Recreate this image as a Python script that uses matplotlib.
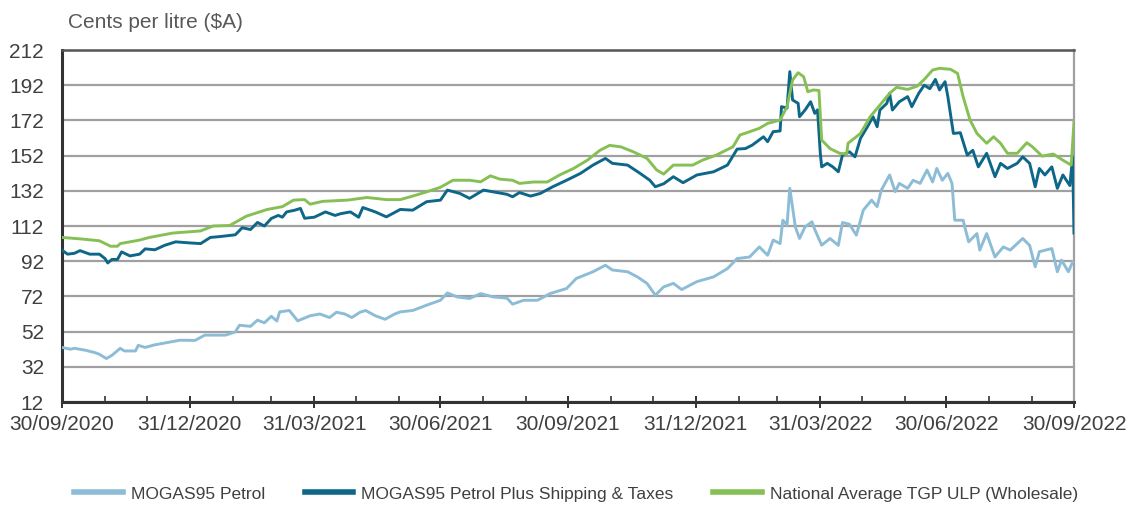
import numpy as np
import pandas as pd
import matplotlib
matplotlib.use('Agg')
import matplotlib.pyplot as plt
import matplotlib.dates as mdates

plt.rcParams['font.family'] = ['Liberation Sans', 'DejaVu Sans']

# ── Data ─────────────────────────────────────────────────────────────────────
start = pd.Timestamp('2020-09-30')
end = pd.Timestamp('2022-09-30')

# MOGAS95 Petrol
mogas_days = [0, 6, 9, 17, 24, 27, 32, 36, 42, 45, 53, 55, 60, 67, 74, 85, 96, 103,
              110, 118, 125, 128, 136, 141, 146, 151, 155, 157, 164, 170, 179, 186,
              193, 198, 204, 209, 215, 219, 226, 233, 240, 244, 253, 263, 273, 278,
              285, 294, 302, 311, 321, 325, 333, 343, 352, 364, 371, 383, 392, 397,
              408, 415, 422, 428, 434, 441, 447, 458, 470, 480, 487, 496, 503, 509,
              513, 518, 520, 523, 525, 529, 532, 536, 541, 543, 548, 554, 560, 563,
              568, 573, 578, 584, 588, 591, 597, 601, 604, 610, 614, 619, 624, 628,
              631, 635, 639, 642, 644, 650, 654, 660, 662, 667, 673, 679, 684, 693,
              698, 702, 705, 714, 718, 721, 726, 729]
mogas_vals = [43, 42, 42.5, 41.4, 40, 39.1, 36.7, 38.5, 42.5, 41, 41, 44.2, 43, 44.5,
              45.5, 47.1, 47, 50, 50, 50, 51.8, 55.6, 55, 58.5, 57, 60.7, 58, 63.2,
              64, 58.1, 61, 62, 60, 63, 62, 60, 63, 64, 61, 59, 62, 63.2, 64, 67,
              69.8, 74, 71.7, 70.8, 73.6, 71.7, 71, 67.6, 69.8, 69.8, 73.6, 76.5,
              82.2, 86, 89.7, 87, 86, 83.1, 79.4, 72.7, 77.4, 79.4, 75.9, 80.4, 83.1,
              87.8, 93.5, 94.4, 100.1, 95.4, 104, 102, 115.3, 112.5, 133.4, 111.5,
              104.9, 111.5, 114.4, 110, 101.1, 104.9, 101, 114, 113, 106.8, 121,
              126.7, 123, 132.4, 141, 131.5, 136.2, 133.4, 138, 136.2, 143.8, 137,
              144.7, 138, 141.9, 136.2, 115.3, 115.3, 103, 107.7, 98.3, 107.7, 94.4,
              100.1, 98.3, 104.9, 101, 88.8, 97.4, 99.2, 86, 92.6, 86, 91.6]

# MOGAS95 Petrol Plus Shipping & Taxes
landed_days = [0, 4, 9, 13, 20, 27, 31, 33, 36, 40, 43, 49, 56, 60, 67, 74, 82, 92,
               100, 107, 114, 125, 130, 136, 141, 146, 151, 156, 159, 162, 168, 172,
               175, 182, 190, 197, 201, 208, 214, 217, 226, 234, 244, 253, 263, 273,
               278, 287, 294, 304, 314, 321, 325, 330, 338, 345, 354, 364, 374, 383,
               392, 397, 408, 417, 424, 428, 434, 441, 448, 458, 470, 480, 487, 493,
               498, 506, 509, 513, 518, 519, 523, 525, 527, 531, 532, 536, 540, 543,
               545, 547, 548, 552, 556, 560, 563, 568, 572, 576, 581, 585, 588, 590,
               595, 597, 599, 604, 610, 613, 618, 622, 626, 630, 633, 637, 639, 643,
               648, 653, 657, 661, 667, 673, 677, 682, 689, 693, 698, 702, 705, 709,
               714, 718, 722, 727, 729, 730]
landed_vals = [98.3, 96, 96.5, 98, 96, 96, 93.5, 91, 93, 93, 97.3, 95, 96, 99, 98.5,
               101, 103, 102.4, 102, 105.5, 106, 107, 111, 110, 114, 112, 116.3, 118,
               117, 120, 121, 122, 116.4, 117, 120, 118, 119, 120, 117, 122.5, 120,
               117.2, 121.4, 121, 125.8, 126.7, 132.4, 130.5, 127.7, 132.4, 131, 130,
               128.6, 131, 129, 130.5, 134.3, 138, 141.9, 146.6, 150.4, 147.6, 146.6,
               141.9, 138, 134.3, 136, 140, 136.6, 141, 142.8, 146.6, 155.7, 156, 158,
               162.7, 159.9, 165.6, 166, 179.8, 179, 199.7, 183.6, 181.7, 174.1,
               177.9, 182.6, 176, 178, 153.3, 145.6, 147.6, 145.6, 142.8, 152.3,
               154.2, 151.3, 161.8, 168.4, 174.1, 168.4, 177.9, 181.7, 187.4, 177.9,
               182.6, 185.5, 179.8, 187.4, 192, 190, 195.3, 189.3, 194, 185.5, 164.6,
               165, 152.3, 155, 145.6, 153.3, 140, 147.6, 144.7, 147.6, 151.3, 147.6,
               134.3, 144.7, 141, 145.6, 133.4, 141, 135, 151.3, 108]

# National Average TGP ULP (Wholesale)
tgp_days = [0, 13, 27, 35, 40, 42, 56, 63, 80, 100, 109, 121, 133, 148, 159, 167, 175,
            179, 188, 206, 220, 234, 244, 253, 263, 273, 282, 294, 302, 309, 316, 325,
            330, 340, 350, 359, 369, 379, 388, 395, 403, 412, 422, 429, 434, 441, 455,
            462, 472, 484, 489, 494, 503, 509, 518, 523, 527, 531, 535, 538, 542, 546,
            548, 554, 561, 566, 567, 576, 583, 590, 597, 602, 610, 617, 622, 628, 633,
            641, 646, 650, 655, 660, 667, 672, 677, 682, 689, 696, 700, 707, 715, 722,
            728, 730]
tgp_vals = [105.5, 104.7, 103.6, 100.5, 100.5, 102, 104, 105.5, 108, 109.2, 112,
            112.3, 117.6, 121.4, 123, 126.7, 127, 124.4, 126, 126.7, 128.2, 127, 127,
            129, 131.4, 134, 138, 138, 137.1, 140.5, 138.6, 138, 136.2, 137, 137, 141,
            144.7, 149.4, 155, 157.8, 157, 154.2, 150.4, 143.8, 141.5, 146.6, 146.6,
            149.4, 152.3, 157, 163.7, 165, 167.5, 170.3, 172.2, 179.8, 194.9, 199.1,
            196.8, 188.3, 189.3, 189, 160.8, 156, 153.3, 152.9, 159, 164.6, 174.1,
            180.7, 187.4, 190.8, 189.6, 191.5, 195.3, 200.6, 201.6, 201, 198.7, 185.5,
            172.2, 164.6, 159, 162.7, 159, 153.3, 153.3, 159.3, 157, 151.7, 152.9,
            149.4, 146.6, 171.2]

series_names = ['MOGAS95 Petrol', 'MOGAS95 Petrol Plus Shipping & Taxes',
                'National Average TGP ULP (Wholesale)']
y_ticks = list(range(12, 213, 20))


def to_dates(days):
    return start + pd.to_timedelta(days, unit='D')


# ── Figure ───────────────────────────────────────────────────────────────────
fig = plt.figure(figsize=(11.29, 5.05), dpi=100)
ax = fig.add_axes([62 / 1129, 1 - 402 / 505, 1012 / 1129, 352 / 505])

c_light = '#8dbdd6'
c_dark = '#0e6688'
c_green = '#86c055'
text_col = '#404040'

ax.plot(to_dates(mogas_days), mogas_vals, color=c_light, lw=2.1,
        label=series_names[0], zorder=3)
ax.plot(to_dates(landed_days), landed_vals, color=c_dark, lw=2.1,
        label=series_names[1], zorder=4)
ax.plot(to_dates(tgp_days), tgp_vals, color=c_green, lw=2.1,
        label=series_names[2], zorder=5)

ax.set_xlim(start, end)
ax.set_ylim(12, 212)
ax.set_yticks(y_ticks)
ax.yaxis.grid(True, color='#a0a0a0', lw=1.6)
ax.set_axisbelow(True)

# quarter-end labels, month-end minor ticks
quarters = pd.date_range(start, end, freq='QE')
months = pd.date_range(start, end, freq='ME')
ax.set_xticks(quarters)
ax.set_xticks(months, minor=True)
ax.xaxis.set_major_formatter(mdates.DateFormatter('%d/%m/%Y'))

ax.tick_params(axis='x', which='major', direction='inout', length=9, width=1.4,
               color='#333333', labelsize=15, labelcolor=text_col, pad=5)
ax.tick_params(axis='x', which='minor', direction='in', length=4, width=1.2,
               color='#333333')
ax.tick_params(axis='y', length=0, labelsize=15, labelcolor=text_col, pad=13)

for side in ['left', 'bottom']:
    ax.spines[side].set_color('#333333')
    ax.spines[side].set_linewidth(2.2)
ax.spines['top'].set_color('#555555')
ax.spines['top'].set_linewidth(1.8)
ax.spines['right'].set_color('#a0a0a0')
ax.spines['right'].set_linewidth(1.6)

fig.text(68 / 1129, 1 - 22 / 505, 'Cents per litre ($A)', fontsize=15,
         color='#595959', ha='left', va='center')

fig.legend(loc='center', bbox_to_anchor=(576 / 1129, 1 - 494 / 505), ncol=3,
           frameon=False, fontsize=12.5, handlelength=2.8, handletextpad=0.45,
           columnspacing=2.3, labelcolor=text_col)
for line in fig.legends[0].get_lines():
    line.set_linewidth(4)

fig.savefig('out.png', dpi=100)
